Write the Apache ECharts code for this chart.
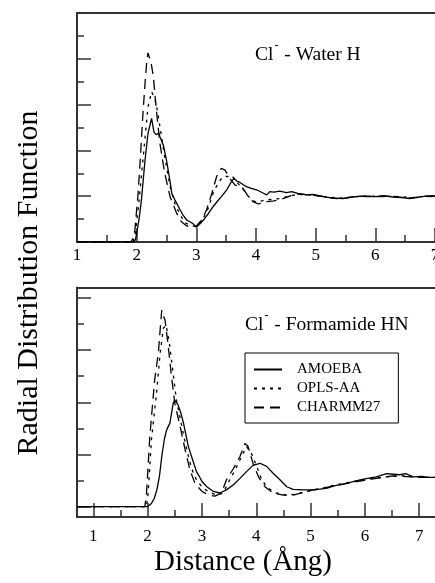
<!DOCTYPE html>
<html>
<head>
<meta charset="utf-8">
<script src="https://cdn.jsdelivr.net/npm/echarts@6/dist/echarts.min.js"></script>
<style>
html,body{margin:0;padding:0;background:#fff;}
#chart{width:435px;height:583px;}
</style>
</head>
<body>
<div id="chart"></div>
<script>
// ---------- DATA ----------
const seriesNames = ['AMOEBA', 'OPLS-AA', 'CHARMM27'];
const xTickLabels = [1, 2, 3, 4, 5, 6, 7];
const xMinorTicks = [1.5, 2.5, 3.5, 4.5, 5.5, 6.5];
const yMajorTicksBottom = [0, 1, 2, 3, 4];
const yMinorTicksBottom = [0.5, 1.5, 2.5, 3.5];

// Top panel: Cl- - Water H
const waterAmoebaX = [1.0,1.95,1.98,2.0,2.04,2.08,2.14,2.19,2.25,2.29,2.33,2.37,2.39,2.45,2.50,2.55,2.59,2.64,2.73,2.78,2.84,2.92,2.96,3.0,3.06,3.12,3.2,3.28,3.36,3.42,3.51,3.58,3.63,3.68,3.73,3.80,3.84,3.92,4.01,4.1,4.18,4.23,4.30,4.4,4.51,4.6,4.7,4.85,4.95,5.05,5.18,5.3,5.46,5.6,5.74,5.85,6.02,6.15,6.30,6.45,6.58,6.7,6.86,6.95,7.0];
const waterAmoebaY = [0,0,0.05,0.19,0.5,0.92,1.79,2.37,2.70,2.40,2.34,2.38,2.30,2.10,1.79,1.40,1.06,0.92,0.70,0.58,0.48,0.42,0.38,0.32,0.40,0.48,0.62,0.77,0.90,0.99,1.14,1.30,1.39,1.33,1.30,1.24,1.21,1.17,1.14,1.08,1.03,1.10,1.09,1.11,1.08,1.10,1.06,1.03,1.04,1.01,0.98,0.96,0.95,0.98,1.00,0.99,0.99,1.01,0.98,0.97,0.95,0.98,1.00,0.99,1.0];
const waterOplsX = [1.0,1.93,1.97,2.03,2.11,2.19,2.25,2.28,2.31,2.35,2.39,2.47,2.56,2.64,2.73,2.81,2.89,3.0,3.09,3.20,3.28,3.37,3.45,3.53,3.59,3.67,3.79,3.90,4.01,4.10,4.18,4.40,4.55,4.7,4.85,5.0,5.2,5.4,5.6,5.8,6.0,6.2,6.4,6.6,6.8,7.0];
const waterOplsY = [0,0,0.1,0.77,1.86,2.95,3.28,3.32,3.10,2.85,2.52,1.86,1.21,0.84,0.59,0.42,0.37,0.33,0.44,0.74,1.06,1.30,1.43,1.43,1.46,1.32,1.14,0.95,0.86,0.90,0.92,0.95,1.0,1.04,1.03,1.02,0.98,0.96,0.98,1.0,1.0,1.0,0.99,0.97,0.99,1.0];
const waterCharmmX = [1.0,1.9,1.94,1.97,2.02,2.06,2.10,2.14,2.17,2.19,2.22,2.25,2.28,2.33,2.39,2.47,2.56,2.67,2.75,2.84,2.92,3.0,3.09,3.17,3.26,3.34,3.42,3.48,3.56,3.65,3.76,3.82,3.87,3.95,4.04,4.18,4.30,4.40,4.5,4.62,4.75,4.9,5.05,5.2,5.35,5.5,5.65,5.8,5.95,6.1,6.25,6.4,6.55,6.7,6.85,7.0];
const waterCharmmY = [0,0,0.08,0.26,1.0,1.79,2.7,3.46,3.95,4.13,4.0,3.85,3.61,2.88,2.15,1.50,0.99,0.63,0.44,0.35,0.33,0.35,0.48,0.70,1.06,1.43,1.61,1.57,1.39,1.24,1.21,1.10,0.99,0.88,0.83,0.88,0.90,0.92,0.97,1.03,1.05,1.02,1.01,0.97,0.95,0.96,0.99,1.0,1.0,0.99,1.0,0.98,0.96,0.97,1.0,1.01];

// Bottom panel: Cl- - Formamide HN
const formAmoebaX = [0.7,2.0,2.07,2.12,2.17,2.22,2.26,2.31,2.35,2.41,2.47,2.50,2.56,2.61,2.66,2.75,2.84,2.90,2.95,3.0,3.09,3.21,3.33,3.45,3.58,3.70,3.82,3.94,4.07,4.19,4.31,4.44,4.56,4.68,4.87,5.05,5.29,5.45,5.60,5.75,5.91,6.05,6.21,6.40,6.52,6.64,6.75,6.89,7.05,7.15,7.29];
const formAmoebaY = [0,0,0.06,0.15,0.32,0.60,0.96,1.30,1.47,1.60,1.98,2.04,1.95,1.80,1.60,1.15,0.86,0.67,0.58,0.48,0.38,0.29,0.26,0.32,0.42,0.54,0.67,0.79,0.83,0.77,0.64,0.51,0.38,0.33,0.32,0.32,0.35,0.40,0.43,0.47,0.51,0.54,0.57,0.63,0.62,0.61,0.63,0.57,0.58,0.56,0.56];
const formOplsX = [0.7,1.98,2.01,2.07,2.17,2.23,2.29,2.34,2.40,2.47,2.53,2.63,2.72,2.81,2.90,3.02,3.15,3.27,3.39,3.48,3.61,3.73,3.82,3.85,3.91,4.01,4.10,4.22,4.37,4.56,4.74,4.93,5.17,5.48,5.79,6.09,6.40,6.71,7.01,7.29];
const formOplsY = [0,0,0.26,1.28,2.24,2.94,3.42,3.48,3.13,2.55,2.04,1.53,1.09,0.73,0.51,0.35,0.27,0.22,0.26,0.45,0.70,0.96,1.15,1.18,1.02,0.77,0.51,0.35,0.26,0.22,0.24,0.29,0.34,0.42,0.48,0.53,0.57,0.59,0.56,0.56];
const formCharmmX = [0.7,1.95,1.98,2.04,2.13,2.20,2.23,2.26,2.29,2.32,2.38,2.44,2.50,2.60,2.69,2.78,2.87,3.0,3.12,3.24,3.36,3.45,3.58,3.70,3.79,3.85,3.94,4.04,4.16,4.31,4.50,4.68,4.87,5.05,5.29,5.60,5.91,6.21,6.52,6.83,7.05,7.29];
const formCharmmY = [0,0,0.26,1.34,2.43,2.97,3.38,3.77,3.65,3.58,3.07,2.49,1.98,1.53,1.09,0.70,0.45,0.29,0.22,0.20,0.26,0.51,0.73,0.96,1.21,1.15,0.83,0.57,0.38,0.26,0.22,0.22,0.27,0.32,0.37,0.43,0.49,0.54,0.59,0.57,0.56,0.56];

// ---------- CHART ----------
const FONT = 'Liberation Serif';
const AX = '#333';
const zip = (xs, ys) => xs.map((x, i) => [x, ys[i]]);
const chart = echarts.init(document.getElementById('chart'), null, {renderer: 'canvas'});

const lineTypes = {
  'AMOEBA': 'solid',
  'OPLS-AA': [3, 5],
  'CHARMM27': [10, 6]
};
function mkSeries(name, xs, ys, xi, yi) {
  return {
    type: 'line', name: name, xAxisIndex: xi, yAxisIndex: yi,
    data: zip(xs, ys), showSymbol: false, symbol: 'none', smooth: false,
    lineStyle: {color: '#000', width: 1.3, type: lineTypes[name]},
    itemStyle: {color: '#000'},
    emphasis: {disabled: true}, animation: false, clip: true
  };
}

const axisLine = {show: true, onZero: false, lineStyle: {color: AX, width: 2}};
const noLine = {show: false, onZero: false};
const noSplit = {show: false};

const titleRich = {
  n: {fontFamily: FONT, fontSize: 19.5, color: '#000', lineHeight: 25, verticalAlign: 'bottom'},
  sup: {fontFamily: FONT, fontSize: 12, color: '#000', lineHeight: 15, verticalAlign: 'top', padding: [0, 1, 0, 1]}
};

const option = {
  backgroundColor: '#fff',
  animation: false,
  grid: [
    {left: 77, top: 13, width: 358, height: 229, outerBoundsMode: 'none', containLabel: false},
    {left: 77, top: 287.5, width: 358, height: 229.5, outerBoundsMode: 'none', containLabel: false}
  ],
  xAxis: [
    // 0: top panel bottom axis
    {gridIndex: 0, type: 'value', position: 'bottom', min: 1, max: 7, interval: 1,
     axisLine: axisLine, splitLine: noSplit,
     axisTick: {show: true, inside: true, length: 14, lineStyle: {color: AX, width: 1.5}},
     minorTick: {show: true, splitNumber: 2, length: 7, lineStyle: {color: AX, width: 1.5}},
     axisLabel: {show: true, margin: 5, fontFamily: FONT, fontSize: 17, color: '#000', showMinLabel: true, showMaxLabel: true}},
    // 1: top panel top frame
    {gridIndex: 0, type: 'value', position: 'top', min: 1, max: 7,
     axisLine: axisLine, axisTick: {show: false}, axisLabel: {show: false}, splitLine: noSplit},
    // 2: bottom panel bottom axis (major)
    {gridIndex: 1, type: 'value', position: 'bottom', min: 0.7, max: 7.29,
     axisLine: axisLine, splitLine: noSplit,
     axisTick: {show: true, inside: true, length: 14, customValues: xTickLabels, lineStyle: {color: AX, width: 1.5}},
     axisLabel: {show: true, margin: 11, customValues: xTickLabels, fontFamily: FONT, fontSize: 17, color: '#000'}},
    // 3: bottom panel minor ticks
    {gridIndex: 1, type: 'value', position: 'bottom', min: 0.7, max: 7.29,
     axisLine: noLine, splitLine: noSplit,
     axisTick: {show: true, inside: true, length: 7, customValues: xMinorTicks, lineStyle: {color: AX, width: 1.5}},
     axisLabel: {show: false}},
    // 4: bottom panel top frame
    {gridIndex: 1, type: 'value', position: 'top', min: 0.7, max: 7.29,
     axisLine: axisLine, axisTick: {show: false}, axisLabel: {show: false}, splitLine: noSplit}
  ],
  yAxis: [
    // 0: top panel
    {gridIndex: 0, type: 'value', position: 'left', min: 0, max: 5, interval: 1,
     axisLine: axisLine, splitLine: noSplit, axisLabel: {show: false},
     axisTick: {show: true, inside: true, length: 14, lineStyle: {color: AX, width: 1.5}},
     minorTick: {show: true, splitNumber: 2, length: 7, lineStyle: {color: AX, width: 1.5}}},
    // 1: bottom panel major
    {gridIndex: 1, type: 'value', position: 'left', min: -0.2, max: 4.2,
     axisLine: axisLine, splitLine: noSplit, axisLabel: {show: false},
     axisTick: {show: true, inside: true, length: 14, customValues: yMajorTicksBottom, lineStyle: {color: AX, width: 1.5}}},
    // 2: bottom panel minor
    {gridIndex: 1, type: 'value', position: 'left', offset: 0, min: -0.2, max: 4.2,
     axisLine: noLine, splitLine: noSplit, axisLabel: {show: false},
     axisTick: {show: true, inside: true, length: 7, customValues: yMinorTicksBottom, lineStyle: {color: AX, width: 1.5}}}
  ],
  title: [
    {text: '{n|Cl}{sup|-}{n| - Water H}', left: 255, top: 40, padding: 0,
     textStyle: {fontFamily: FONT, fontSize: 19.5, fontWeight: 'normal', color: '#000', rich: titleRich}},
    {text: '{n|Cl}{sup|-}{n| - Formamide HN}', left: 245, top: 310, padding: 0,
     textStyle: {fontFamily: FONT, fontSize: 19.5, fontWeight: 'normal', color: '#000', rich: titleRich}}
  ],
  legend: {
    data: seriesNames, orient: 'vertical', left: 245, top: 353,
    padding: [9, 18, 8, 8], itemGap: 4, itemWidth: 28, itemHeight: 15,
    borderColor: '#000', borderWidth: 1, borderRadius: 0, backgroundColor: '#fff',
    selectedMode: false,
    itemStyle: {color: 'rgba(0,0,0,0)', borderColor: 'rgba(0,0,0,0)', borderWidth: 0},
    textStyle: {fontFamily: FONT, fontSize: 15, color: '#000', padding: [0, 0, 0, 10]}
  },
  graphic: [
    {type: 'text', x: 29, y: 283, rotation: Math.PI / 2,
     style: {text: 'Radial Distribution Function', fontFamily: FONT, fontSize: 30, fill: '#000',
       textAlign: 'center', textVerticalAlign: 'middle'}},
    {type: 'text', x: 243, y: 562,
     style: {text: 'Distance (Ång)', fontFamily: FONT, fontSize: 29, fill: '#000',
       textAlign: 'center', textVerticalAlign: 'middle'}}
  ],
  series: [
    mkSeries('AMOEBA', waterAmoebaX, waterAmoebaY, 0, 0),
    mkSeries('OPLS-AA', waterOplsX, waterOplsY, 0, 0),
    mkSeries('CHARMM27', waterCharmmX, waterCharmmY, 0, 0),
    mkSeries('AMOEBA', formAmoebaX, formAmoebaY, 2, 1),
    mkSeries('OPLS-AA', formOplsX, formOplsY, 2, 1),
    mkSeries('CHARMM27', formCharmmX, formCharmmY, 2, 1)
  ]
};
chart.setOption(option);
</script>
</body>
</html>
